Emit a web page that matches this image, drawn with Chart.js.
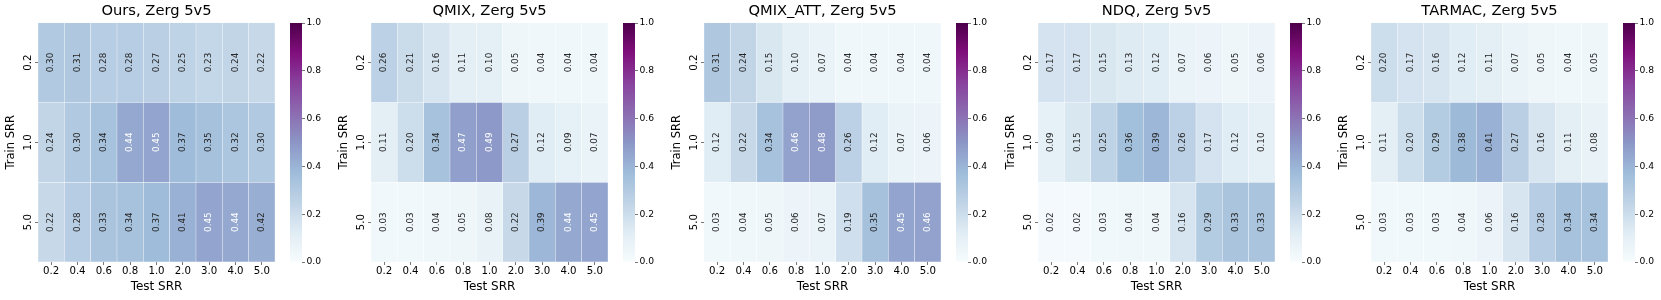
<!DOCTYPE html>
<html>
<head>
<meta charset="utf-8">
<script src="https://cdn.jsdelivr.net/npm/chart.js@4.4.1/dist/chart.umd.min.js"></script>
<style>
  html, body { margin: 0; padding: 0; background: #fff; overflow: hidden; }
  #wrap { position: relative; width: 1661px; height: 300px; }
  #wrap canvas { position: absolute; top: 0; }
</style>
</head>
<body>
<div id="wrap"></div>
<script>
// Generalisation heatmaps: success rate per train SRR (rows) / test SRR (cols)

const testSRR = ['0.2', '0.4', '0.6', '0.8', '1.0', '2.0', '3.0', '4.0', '5.0'];
const trainSRR = ['0.2', '1.0', '5.0'];
const titles = ['Ours, Zerg 5v5', 'QMIX, Zerg 5v5', 'QMIX_ATT, Zerg 5v5', 'NDQ, Zerg 5v5', 'TARMAC, Zerg 5v5'];
const cbarTicks = [0, 0.2, 0.4, 0.6, 0.8, 1.0];

const ours = [
  [0.30, 0.31, 0.28, 0.28, 0.27, 0.25, 0.23, 0.24, 0.22],
  [0.24, 0.30, 0.34, 0.44, 0.45, 0.37, 0.35, 0.32, 0.30],
  [0.22, 0.28, 0.33, 0.34, 0.37, 0.41, 0.45, 0.44, 0.42],
];
const qmix = [
  [0.26, 0.21, 0.16, 0.11, 0.10, 0.05, 0.04, 0.04, 0.04],
  [0.11, 0.20, 0.34, 0.47, 0.49, 0.27, 0.12, 0.09, 0.07],
  [0.03, 0.03, 0.04, 0.05, 0.08, 0.22, 0.39, 0.44, 0.45],
];
const qmixAtt = [
  [0.31, 0.24, 0.15, 0.10, 0.07, 0.04, 0.04, 0.04, 0.04],
  [0.12, 0.22, 0.34, 0.46, 0.48, 0.26, 0.12, 0.07, 0.06],
  [0.03, 0.04, 0.05, 0.06, 0.07, 0.19, 0.35, 0.45, 0.46],
];
const ndq = [
  [0.17, 0.17, 0.15, 0.13, 0.12, 0.07, 0.06, 0.05, 0.06],
  [0.09, 0.15, 0.25, 0.36, 0.39, 0.26, 0.17, 0.12, 0.10],
  [0.02, 0.02, 0.03, 0.04, 0.04, 0.16, 0.29, 0.33, 0.33],
];
const tarmac = [
  [0.20, 0.17, 0.16, 0.12, 0.11, 0.07, 0.05, 0.04, 0.05],
  [0.11, 0.20, 0.29, 0.38, 0.41, 0.27, 0.16, 0.11, 0.08],
  [0.03, 0.03, 0.03, 0.04, 0.06, 0.16, 0.28, 0.34, 0.34],
];
const panels = [ours, qmix, qmixAtt, ndq, tarmac];

// matplotlib BuPu
const bupu = [
  [247, 252, 253], [224, 236, 244], [191, 211, 230], [158, 188, 218], [140, 150, 198],
  [140, 107, 177], [136, 65, 157], [129, 15, 124], [77, 0, 75],
];
const FONT = '"DejaVu Sans", sans-serif';

function cmap(v) {
  const t = Math.max(0, Math.min(1, v)) * (bupu.length - 1);
  const i = Math.min(bupu.length - 2, Math.floor(t));
  const f = t - i;
  return bupu[i].map((c, k) => c + (bupu[i + 1][k] - c) * f);
}
const css = (c) => `rgb(${c.map(Math.round).join(',')})`;

// seaborn picks annotation colour from cell luminance
function textColor(v) {
  const lin = cmap(v).map(c => {
    c /= 255;
    return c <= 0.03928 ? c / 12.92 : Math.pow((c + 0.055) / 1.055, 2.4);
  });
  const lum = 0.2126 * lin[0] + 0.7152 * lin[1] + 0.0722 * lin[2];
  return lum > 0.408 ? '#262626' : '#ffffff';
}

const cellText = {
  id: 'cellText',
  afterDatasetsDraw(chart, args, opts) {
    const { ctx, scales: { x, y } } = chart;
    ctx.save();
    ctx.font = '8.8px ' + FONT;
    ctx.textAlign = 'center';
    ctx.textBaseline = 'middle';
    opts.values.forEach((row, r) => row.forEach((v, c) => {
      ctx.save();
      ctx.translate(x.getPixelForValue(c + 0.5), y.getPixelForValue(r + 0.5));
      ctx.rotate(-Math.PI / 2);
      ctx.fillStyle = textColor(v);
      ctx.fillText(v.toFixed(2), 0, 0);
      ctx.restore();
    }));
    ctx.restore();
  }
};

const wrap = document.getElementById('wrap');
function addCanvas(left, width) {
  const cv = document.createElement('canvas');
  cv.width = width; cv.height = 300;
  cv.style.left = left + 'px';
  cv.style.width = width + 'px'; cv.style.height = '300px';
  wrap.appendChild(cv);
  return cv;
}

const HEAT_W = 237;
const AXIS_W = 40;

panels.forEach((vals, p) => {
  const cbLeft = Math.round(289.5 + 333.4 * p);
  const heatLeft = cbLeft - 252;

  // heatmap
  const cv = addCanvas(heatLeft - AXIS_W, AXIS_W + HEAT_W + AXIS_W);
  new Chart(cv, {
    type: 'bar',
    data: {
      datasets: vals.map((row, r) => ({
        data: row.map((v, c) => ({ x: c + 0.5, y: [r, r + 1] })),
        backgroundColor: row.map(v => css(cmap(v))),
        borderColor: 'rgba(255,255,255,0.35)',
        borderWidth: 0.5,
        borderSkipped: false,
        barPercentage: 1,
        categoryPercentage: 1,
        grouped: false,
      }))
    },
    options: {
      responsive: false,
      animation: false,
      layout: { padding: 0 },
      plugins: {
        legend: { display: false },
        tooltip: { enabled: false },
        title: {
          display: true, text: titles[p], color: '#000',
          font: { family: FONT, size: 14.7, weight: 'normal' },
          padding: { top: 2, bottom: 3 }
        },
        cellText: { values: vals }
      },
      scales: {
        x: {
          type: 'linear', min: 0, max: testSRR.length, offset: false,
          afterBuildTicks: (s) => { s.ticks = testSRR.map((_, i) => ({ value: i + 0.5 })); },
          grid: { offset: false, drawOnChartArea: false, drawTicks: true, tickLength: 3, tickColor: '#555', tickWidth: 0.8 },
          border: { display: false },
          ticks: { callback: (v, i) => testSRR[i], font: { family: FONT, size: 10.2 }, color: '#000', padding: 0.6, minRotation: 0, maxRotation: 0, autoSkip: false },
          title: { display: true, text: 'Test SRR', color: '#000', font: { family: FONT, size: 12 }, padding: { top: 0, bottom: 5.8 } },
          afterFit: (s) => { s.height = 38; }
        },
        y: {
          min: 0, max: trainSRR.length, reverse: true,
          afterBuildTicks: (s) => { s.ticks = trainSRR.map((_, i) => ({ value: i + 0.5 })); },
          ticks: {
            callback: (v, i) => trainSRR[i],
            minRotation: 90, maxRotation: 90, crossAlign: 'center', padding: -1.1,
            font: { family: FONT, size: 10.2 }, color: '#000'
          },
          grid: { drawOnChartArea: false, drawTicks: true, tickLength: 3, tickColor: '#555', tickWidth: 0.8 },
          border: { display: false },
          title: { display: true, text: 'Train SRR', color: '#000', font: { family: FONT, size: 11.5 }, padding: { top: 6.5, bottom: 0 } },
          afterFit: (s) => { s.width = AXIS_W; }
        },
        // empty box on the right so the title centres over the cells
        yr: {
          position: 'right',
          ticks: { display: false },
          grid: { display: false },
          border: { display: false },
          afterFit: (s) => { s.width = AXIS_W; }
        }
      }
    },
    plugins: [cellText]
  });

  // colorbar
  const cb = addCanvas(cbLeft, 12 + 35);
  new Chart(cb, {
    type: 'bar',
    data: {
      labels: [''],
      datasets: [{
        data: [[0, 1]],
        borderWidth: 0,
        barPercentage: 1,
        categoryPercentage: 1,
        backgroundColor: (c) => {
          const ch = c.chart;
          const ys = ch.scales.y;
          if (!ys || !ch.chartArea) return css(cmap(0.5));
          const g = ch.ctx.createLinearGradient(0, ys.getPixelForValue(0), 0, ys.getPixelForValue(1));
          bupu.forEach((col, i) => g.addColorStop(i / (bupu.length - 1), css(col)));
          return g;
        }
      }]
    },
    options: {
      responsive: false,
      animation: false,
      layout: { padding: { top: 23, bottom: 38, left: 0, right: 0 } },
      plugins: { legend: { display: false }, tooltip: { enabled: false } },
      scales: {
        x: { display: false },
        y: {
          position: 'right', min: 0, max: 1,
          afterBuildTicks: (s) => { s.ticks = cbarTicks.map(v => ({ value: v })); },
          ticks: { callback: (v) => v.toFixed(1), padding: 1.5, font: { family: FONT, size: 9.2 }, color: '#000' },
          grid: { drawOnChartArea: false, drawTicks: true, tickLength: 3, tickColor: '#555', tickWidth: 0.8 },
          border: { display: false },
          afterFit: (s) => { s.width = 35; }
        }
      }
    }
  });
});
</script>
</body>
</html>
